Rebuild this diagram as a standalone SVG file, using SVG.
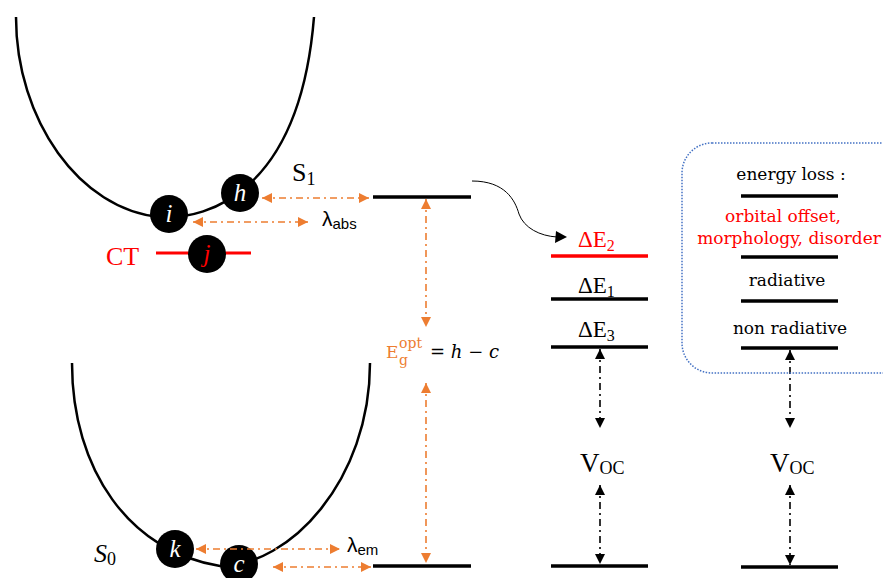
<svg xmlns="http://www.w3.org/2000/svg" width="883" height="578" viewBox="0 0 883 578">
<style>
.curve{fill:none;stroke:#000;stroke-width:2.5}
.lvl{stroke:#000;stroke-width:3.5}
.red{stroke:#ff0000;stroke-width:3.5}
.oar{stroke:#ED7D31;stroke-width:1.6;stroke-dasharray:7 4 2 4;fill:none}
.bar{stroke:#000;stroke-width:1.6;stroke-dasharray:7 4 2 4;fill:none}
.ser{font-family:"DejaVu Serif","Liberation Serif",serif}
.lser{font-family:"Liberation Serif","DejaVu Serif",serif}
.sans{font-family:"Liberation Sans","Open Sans",sans-serif}
.ball{fill:#000}
.bt{font-family:"Liberation Serif",serif;font-style:italic;font-size:25px;fill:#fff;text-anchor:middle}
</style>
<defs>
<marker id="oa" viewBox="0 0 10 10" refX="10" refY="5" markerWidth="10" markerHeight="10" markerUnits="userSpaceOnUse" orient="auto-start-reverse"><path d="M0,0 L10,5 L0,10 z" fill="#ED7D31"/></marker>
<marker id="ba" viewBox="0 0 10 10" refX="10" refY="5" markerWidth="10" markerHeight="10" markerUnits="userSpaceOnUse" orient="auto-start-reverse"><path d="M0,0 L10,5 L0,10 z" fill="#000"/></marker>
</defs>

<g id="S1-curve">
<path class="curve" d="M16,17 C16,120 80,210 160,217 C210,220 300,190 314,17"/>
<text class="lser" x="292" y="181" font-size="26">S<tspan font-size="18" dy="4">1</tspan></text>
</g>
<g id="node-h"><circle class="ball" cx="240" cy="193" r="19"/><text class="bt" x="240" y="201">h</text></g>
<g id="node-i"><circle class="ball" cx="169" cy="214" r="19"/><text class="bt" x="169" y="222">i</text></g>
<g id="CT">
<line x1="156" y1="253" x2="251" y2="253" stroke="#ff0000" stroke-width="3"/>
<text class="lser" x="106" y="265" font-size="26" fill="#ff0000">CT</text>
</g>
<g id="node-j"><circle class="ball" cx="207" cy="254" r="19"/><text class="bt" x="207" y="262" style="fill:#ff0000">j</text></g>

<g id="S0-curve">
<path class="curve" d="M72,363 C72,470 130,552 220,566 C290,566 370,480 370,363"/>
<text class="lser" x="94" y="562" font-size="26" font-style="italic">S<tspan font-size="18" dy="3" font-style="normal">0</tspan></text>
</g>
<g id="node-k"><circle class="ball" cx="175" cy="549" r="19"/><text class="bt" x="175" y="557">k</text></g>
<g id="node-c"><circle class="ball" cx="239" cy="564" r="19"/><text class="bt" x="239" y="572">c</text></g>

<g id="levels">
<line class="lvl" x1="373" y1="197" x2="471" y2="197"/>
<line class="lvl" x1="373" y1="566" x2="471" y2="566"/>
<line class="red" x1="551" y1="256" x2="648" y2="256"/>
<line class="lvl" x1="551" y1="299" x2="648" y2="299"/>
<line class="lvl" x1="551" y1="347" x2="648" y2="347"/>
<line class="lvl" x1="551" y1="566" x2="648" y2="566"/>
<line class="lvl" x1="741" y1="196" x2="838" y2="196"/>
<line class="lvl" x1="741" y1="257" x2="838" y2="257"/>
<line class="lvl" x1="741" y1="301" x2="838" y2="301"/>
<line class="lvl" x1="741" y1="348" x2="838" y2="348"/>
<line class="lvl" x1="741" y1="567" x2="838" y2="567"/>
</g>

<g id="connectors">
<line class="oar" x1="262" y1="198" x2="369" y2="198" marker-start="url(#oa)" marker-end="url(#oa)"/>
<line class="oar" x1="193" y1="222" x2="308" y2="222" marker-start="url(#oa)" marker-end="url(#oa)"/>
<line class="oar" x1="196" y1="549" x2="340" y2="549" marker-start="url(#oa)" marker-end="url(#oa)"/>
<line class="oar" x1="273" y1="567" x2="371" y2="567" marker-start="url(#oa)" marker-end="url(#oa)"/>
<line class="oar" x1="426" y1="199" x2="426" y2="327" marker-start="url(#oa)" marker-end="url(#oa)"/>
<line class="oar" x1="426" y1="383" x2="426" y2="563" marker-start="url(#oa)" marker-end="url(#oa)"/>
<line class="bar" x1="600" y1="349" x2="600" y2="428" marker-start="url(#ba)" marker-end="url(#ba)"/>
<line class="bar" x1="600" y1="485" x2="600" y2="564" marker-start="url(#ba)" marker-end="url(#ba)"/>
<line class="bar" x1="790" y1="350" x2="790" y2="428" marker-start="url(#ba)" marker-end="url(#ba)"/>
<line class="bar" x1="790" y1="485" x2="790" y2="565" marker-start="url(#ba)" marker-end="url(#ba)"/>
<path d="M472,181 C505,181 515,200 519,214 C524,228 540,236 557,237" fill="none" stroke="#000" stroke-width="1"/>
<path d="M556,231 L567,237 L555,243 z" fill="#000"/>
</g>

<g id="labels">
<text class="sans" x="322" y="226" font-size="21">λ<tspan font-size="15" dy="3">abs</tspan></text>
<text class="sans" x="347" y="552" font-size="21">λ<tspan font-size="15" dy="3">em</tspan></text>
<text class="ser" x="386" y="358" font-size="17" fill="#ED7D31">E</text>
<text class="ser" x="399" y="365" font-size="14" fill="#ED7D31">g</text>
<text class="ser" x="399" y="348" font-size="14" fill="#ED7D31">opt</text>
<text class="ser" x="430" y="358" font-size="18">= <tspan font-style="italic">h</tspan> − <tspan font-style="italic">c</tspan></text>
<text class="lser" x="578" y="247" font-size="23" fill="#ff0000">ΔE<tspan font-size="16" dy="4">2</tspan></text>
<text class="lser" x="578" y="293" font-size="23">ΔE<tspan font-size="16" dy="4">1</tspan></text>
<text class="lser" x="578" y="337" font-size="23">ΔE<tspan font-size="16" dy="4">3</tspan></text>
<text class="lser" x="580" y="472" font-size="27">V<tspan font-size="18" dy="2">OC</tspan></text>
<text class="lser" x="770" y="472" font-size="27">V<tspan font-size="18" dy="2">OC</tspan></text>
</g>

<g id="energy-loss-box">
<rect x="682" y="143" width="230" height="230" rx="30" ry="30" fill="none" stroke="#4472C4" stroke-width="1.5" stroke-dasharray="1.5 1.5"/>
<text class="ser" x="791" y="180" font-size="17" text-anchor="middle">energy loss :</text>
<text class="ser" x="783" y="222" font-size="17" text-anchor="middle" fill="#ff0000">orbital offset,</text>
<text class="ser" x="789" y="244" font-size="17" text-anchor="middle" fill="#ff0000">morphology, disorder</text>
<text class="ser" x="787" y="286" font-size="17" text-anchor="middle">radiative</text>
<text class="ser" x="790" y="334" font-size="17" text-anchor="middle">non radiative</text>
</g>
</svg>
